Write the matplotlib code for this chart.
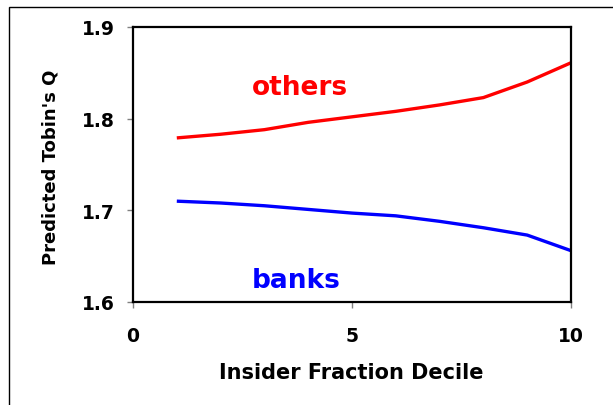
import matplotlib
matplotlib.use("Agg")
import matplotlib.pyplot as plt
from matplotlib.patches import Rectangle

# predicted Tobin's Q by insider fraction decile
deciles = [1, 2, 3, 4, 5, 6, 7, 8, 9, 10]
others = [1.779, 1.783, 1.788, 1.796, 1.802, 1.808, 1.815, 1.823, 1.840, 1.861]
banks = [1.710, 1.708, 1.705, 1.701, 1.697, 1.694, 1.688, 1.681, 1.673, 1.656]

xticks = [0, 5, 10]
yticks = [1.6, 1.7, 1.8, 1.9]

plt.rcParams['font.family'] = ['DejaVu Sans']
plt.rcParams['font.weight'] = 'bold'

fig = plt.figure(figsize=(6.13, 4.06), dpi=100)
ax = fig.add_axes([133 / 613, 1 - 303 / 406, 438 / 613, 275 / 406])

ax.plot(deciles, others, color='#ff0000', lw=2.4, solid_capstyle='butt')
ax.plot(deciles, banks, color='#0000ff', lw=2.4, solid_capstyle='butt')

ax.set_xlim(0, 10)
ax.set_ylim(1.6, 1.9)
ax.set_xticks(xticks)
ax.set_yticks(yticks)
ax.set_xticklabels([str(t) for t in xticks], fontsize=13.5, fontweight='bold')
ax.set_yticklabels([f"{t:.1f}" for t in yticks], fontsize=13.5, fontweight='bold')
ax.tick_params(direction='out', length=4.3, width=1, colors='#808080',
               labelcolor='black')
ax.tick_params(axis='y', pad=9)
ax.tick_params(axis='x', pad=13)

for s in ax.spines.values():
    s.set_linewidth(1.6)

ax.text(2.72, 1.834, 'others', color='#ff0000', fontsize=19, fontweight='bold',
        ha='left', va='center')
ax.text(2.72, 1.624, 'banks', color='#0000ff', fontsize=19, fontweight='bold',
        ha='left', va='center')

fig.text(351 / 613, 1 - 373 / 406, 'Insider Fraction Decile', fontsize=15,
         fontweight='bold', ha='center', va='center')
fig.text(51 / 613, 1 - 167 / 406, "Predicted Tobin's Q", fontsize=13,
         fontweight='bold', ha='center', va='center', rotation=90)

# outer chart border
fig.patches.append(Rectangle((9 / 613, -0.1), 1.2, 1 - 8 / 406 + 0.1,
                             transform=fig.transFigure, fill=False,
                             edgecolor='black', lw=1))

fig.savefig('out.png', dpi=100)
